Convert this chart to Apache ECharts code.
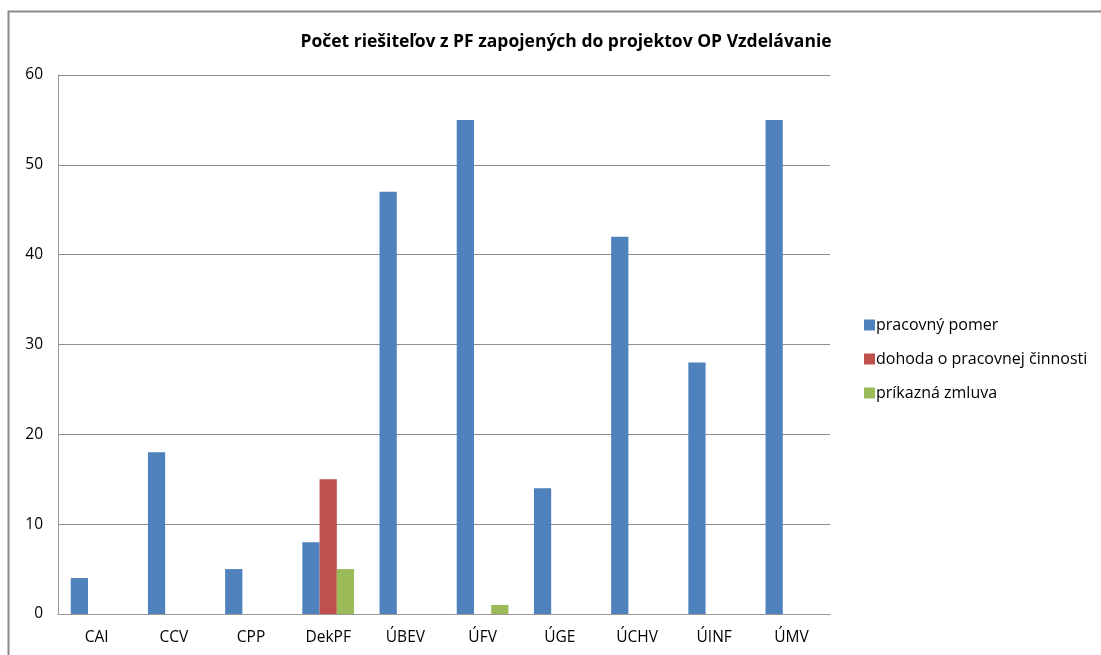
<!DOCTYPE html>
<html lang="sk">
<head>
    <meta charset="UTF-8">
    <title>Počet riešiteľov</title>
    <script src="https://cdn.jsdelivr.net/npm/echarts@6/dist/echarts.min.js"></script>
    <style>
        html, body { margin: 0; padding: 0; background: #fff; }
        #chart { width: 1101px; height: 655px; }
    </style>
</head>
<body>
<div id="chart"></div>
<script>
    var categories = ['CAI', 'CCV', 'CPP', 'DekPF', 'ÚBEV', 'ÚFV', 'ÚGE', 'ÚCHV', 'ÚINF', 'ÚMV'];
    var seriesNames = ['pracovný pomer', 'dohoda o pracovnej činnosti', 'príkazná zmluva'];
    var pracovnyPomer = [4, 18, 5, 8, 47, 55, 14, 42, 28, 55];
    var dohoda = [0, 0, 0, 15, 0, 0, 0, 0, 0, 0];
    var prikazna = [0, 0, 0, 5, 0, 1, 0, 0, 0, 0];
    var colors = ['#4F81BD', '#C0504D', '#9BBB59'];

    var font = 'Open Sans, Noto Sans, sans-serif';
    var myChart = echarts.init(document.getElementById('chart'));

    var allData = [pracovnyPomer, dohoda, prikazna];
    var series = [];
    for (var i = 0; i < seriesNames.length; i++) {
        series.push({
            name: seriesNames[i],
            type: 'bar',
            data: allData[i],
            barGap: '0%',
            barCategoryGap: '33%',
            itemStyle: { color: colors[i] }
        });
    }

    var option = {
        animation: false,
        title: {
            text: 'Počet riešiteľov z PF zapojených do projektov OP Vzdelávanie',
            left: 561,
            textAlign: 'center',
            top: 28,
            textStyle: { fontFamily: font, fontSize: 17.5, fontWeight: 'bold', color: '#000' }
        },
        legend: {
            orient: 'vertical',
            left: 859,
            top: 309,
            itemWidth: 11,
            itemHeight: 11,
            itemGap: 12,
            icon: 'rect',
            textStyle: { fontFamily: font, fontSize: 16, lineHeight: 22, color: '#000', padding: [0, 0, 0, -4] },
            data: seriesNames
        },
        grid: { left: 58, right: 271, top: 75, bottom: 41 },
        xAxis: {
            type: 'category',
            data: categories,
            axisLine: { lineStyle: { color: '#9a9a9a' } },
            axisTick: { show: false },
            axisLabel: { fontFamily: font, fontSize: 15.5, color: '#000', margin: 16 }
        },
        yAxis: {
            type: 'value',
            min: 0,
            max: 60,
            interval: 10,
            axisLine: { show: true, lineStyle: { color: '#9a9a9a' } },
            axisTick: { show: false },
            splitLine: { lineStyle: { color: '#8c8c8c' } },
            axisLabel: { fontFamily: font, fontSize: 15.5, color: '#000', margin: 15 }
        },
        graphic: [{
            type: 'rect',
            shape: { x: 8.5, y: 11.5, width: 1200, height: 800 },
            style: { fill: 'none', stroke: '#8a8a8a', lineWidth: 2 },
            silent: true
        }],
        series: series
    };
    myChart.setOption(option);
</script>
</body>
</html>
